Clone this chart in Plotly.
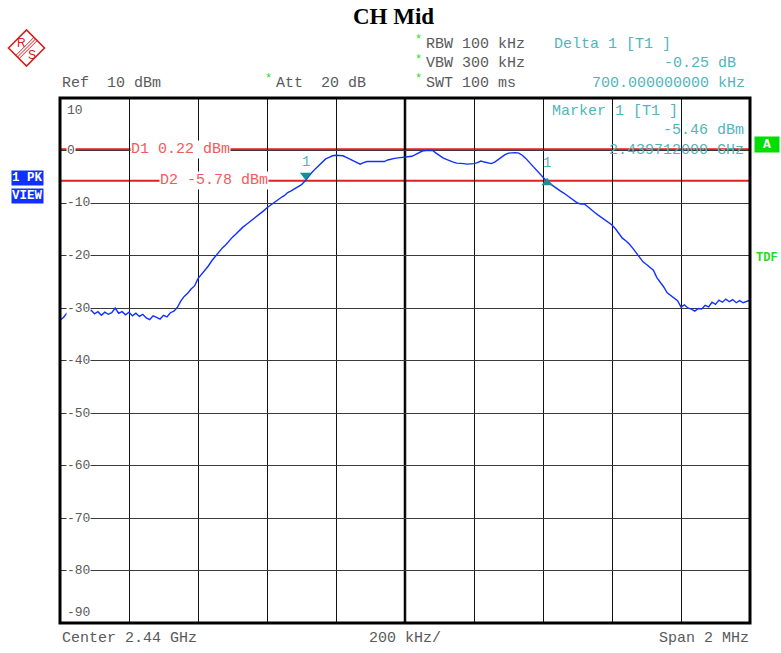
import numpy as np
import plotly.graph_objects as go

# ---------------- data ----------------
center_mhz = 2440.0
span_mhz = 2.0
n_points = 201
freq_mhz = np.linspace(center_mhz - span_mhz / 2, center_mhz + span_mhz / 2, n_points)

trace_dbm = [
    -32.3, -31.8, -31.0, -31.4, -30.8, -31.2, -30.6, -31.3, -30.9, -30.4,
    -31.1, -30.7, -31.4, -30.8, -31.2, -30.9, -30.0, -31.0, -30.7, -31.3,
    -30.8, -31.5, -31.0, -31.6, -31.2, -31.9, -32.2, -31.5, -31.8, -32.1,
    -31.4, -31.7, -30.9, -30.6, -29.9, -28.7, -27.8, -27.2, -26.4, -25.8,
    -24.4, -23.6, -22.9, -22.0, -21.0, -20.2, -19.3, -18.6, -18.0, -17.2,
    -16.5, -15.9, -15.2, -14.6, -14.1, -13.6, -13.1, -12.5, -12.0, -11.5,
    -10.9, -10.4, -9.9, -9.5, -9.0, -8.6, -8.0, -7.7, -7.3, -7.0,
    -6.5, -5.8, -4.9, -4.2, -3.5, -2.8, -2.1, -1.6, -1.3, -1.0,
    -0.9, -0.9, -1.0, -1.3, -1.6, -2.0, -2.3, -2.6, -2.3, -2.1,
    -2.1, -2.1, -2.0, -2.1, -2.1, -1.8, -1.6, -1.5, -1.4, -1.3,
    -1.2, -1.1, -1.1, -0.8, -0.4, -0.1, 0.0, 0.0, 0.0, -0.5,
    -1.0, -1.4, -1.7, -2.0, -2.2, -2.4, -2.4, -2.5, -2.6, -2.6,
    -2.5, -2.3, -2.0, -2.2, -2.3, -2.5, -2.2, -1.7, -1.3, -0.8,
    -0.5, -0.4, -0.4, -0.5, -0.9, -1.5, -2.2, -2.9, -3.7, -4.4,
    -5.2, -5.8, -6.3, -6.8, -7.3, -7.7, -8.1, -8.6, -9.0, -9.5,
    -10.0, -10.2, -10.2, -10.7, -11.3, -11.8, -12.3, -12.8, -13.2, -13.7,
    -14.2, -14.9, -15.9, -16.7, -17.2, -17.8, -18.6, -19.5, -20.4, -21.2,
    -21.7, -22.2, -22.8, -24.2, -25.0, -26.0, -27.1, -27.6, -28.0, -28.6,
    -29.8, -29.4, -30.0, -30.2, -30.6, -30.1, -30.2, -29.5, -29.8, -28.9,
    -29.3, -28.5, -28.9, -28.3, -28.8, -28.4, -29.0, -28.6, -29.0, -28.8,
    -28.5,
]

ref_level = 10
y_bottom = -90
y_tick_values = [10, 0, -10, -20, -30, -40, -50, -60, -70, -80, -90]
y_tick_labels = ["10", "0", "-10", "-20", "-30", "-40", "-50", "-60", "-70", "-80", "-90"]

d1_level = 0.22
d2_level = -5.78
marker1_freq = 2439.712
marker1_level = -5.46
delta1_freq_offset = 0.7      # MHz
delta1_level_offset = -0.25   # dB

title = "CH Mid"
header_left = ["Ref  10 dBm", "Att  20 dB"]
header_mid = ["RBW 100 kHz", "VBW 300 kHz", "SWT 100 ms"]
delta_texts = ["Delta 1 [T1 ]", "-0.25 dB", "700.000000000 kHz"]
marker_texts = ["Marker 1 [T1 ]", "-5.46 dBm", "2.439712000 GHz"]
footer = ["Center 2.44 GHz", "200 kHz/", "Span 2 MHz"]

# ---------------- styles ----------------
W, H = 781, 653
L, R, T, B = 60, 750, 98, 623
MONO = "Liberation Mono, DejaVu Sans Mono, monospace"
GRAY = "#5a5a5a"
TEAL = "#4fb6bc"
MARK = "#17908f"
REDTXT = "#f25a5a"
REDLINE = "#e41f1f"
GREEN = "#1fdc1f"
BLUE = "#1030ff"
FS = 15


def px(x):
    return (x - L) / (R - L)


def py(y):
    return (B - y) / (B - T)


fig = go.Figure()
fig.add_trace(go.Scatter(x=freq_mhz, y=trace_dbm, mode="lines",
                         line=dict(color=BLUE, width=1.4), hoverinfo="skip"))

# markers
m2_freq = marker1_freq + delta1_freq_offset
m2_level = marker1_level + delta1_level_offset
fig.add_trace(go.Scatter(x=[marker1_freq], y=[marker1_level + 0.75], mode="markers",
                         marker=dict(symbol="triangle-down", size=10, color=MARK),
                         hoverinfo="skip"))
fig.add_trace(go.Scatter(x=[m2_freq], y=[m2_level - 0.45], mode="markers",
                         marker=dict(symbol="triangle-up", size=10, color=MARK),
                         hoverinfo="skip"))

ann = []


def txt(x, y, s, color=GRAY, size=FS, anchor="left", family=MONO, **kw):
    ann.append(dict(x=px(x), y=py(y), xref="paper", yref="paper", text=s,
                    showarrow=False, xanchor=anchor, yanchor="middle",
                    font=dict(family=family, size=size, color=color), **kw))


# marker labels "1"
for f, lv in [(marker1_freq, marker1_level), (m2_freq, m2_level)]:
    ann.append(dict(x=f, y=lv, xref="x", yref="y", text="1", showarrow=False,
                    yshift=17, font=dict(family=MONO, size=14, color=TEAL)))

# title
txt(393, 17, "<b>" + title + "</b>", color="black", size=23, anchor="center",
    family="Liberation Serif, Times New Roman, serif")

# header
txt(60, 83, header_left[0])
txt(268, 79, "*", color=GREEN, size=12, anchor="center")
txt(274, 83, header_left[1])
for i, s in enumerate(header_mid):
    yy = [44, 64, 83][i]
    txt(419, yy - 4, "*", color=GREEN, size=12, anchor="center")
    txt(424, yy, s)
txt(552, 44, delta_texts[0], color=TEAL)
txt(738, 64, delta_texts[1], color=TEAL, anchor="right")
txt(747, 83, delta_texts[2], color=TEAL, anchor="right")
txt(550, 111, marker_texts[0], color=TEAL)
txt(746, 130, marker_texts[1], color=TEAL, anchor="right")
txt(746, 150, marker_texts[2], color=TEAL, anchor="right")

# footer
txt(60, 638, footer[0])
txt(367, 638, footer[1])
txt(751, 638, footer[2], anchor="right")

# y labels
for v, lab in zip(y_tick_values, y_tick_labels):
    ypix = T + (ref_level - v) / (ref_level - y_bottom) * (B - T)
    if v == ref_level:
        ypix += 12
    if v == y_bottom:
        ypix -= 11
    txt(66, ypix, lab, size=13, bgcolor="white", borderpad=0)

# display line labels
for lv, lab, x0 in [(d1_level, "D1 0.22 dBm", 130), (d2_level, "D2 -5.78 dBm", 159)]:
    ann.append(dict(x=px(x0), y=lv, xref="paper", yref="y", text=lab, showarrow=False,
                    xanchor="left", yanchor="middle", bgcolor="white", borderpad=0,
                    font=dict(family=MONO, size=FS, color=REDTXT)))

# side labels
txt(766.5, 144.5, "<b>A</b>", color="white", size=13, anchor="center",
    bgcolor="#00dd00", width=22, height=13, borderpad=1)
txt(754, 258, "<b>TDF</b>", color=GREEN, size=12)
txt(11, 178, "<b>1 PK</b>", color="white", size=12.5, bgcolor=BLUE, borderpad=0)
txt(11, 196, "<b>VIEW</b>", color="white", size=12.5, bgcolor=BLUE, borderpad=0)

# logo letters
txt(21.5, 42.5, "R", color="#d42020", size=12, anchor="center",
    family="Liberation Sans, Arial, sans-serif")
txt(31.5, 55, "S", color="#d42020", size=12, anchor="center",
    family="Liberation Sans, Arial, sans-serif")

shapes = []
# display lines
for lv in [d1_level, d2_level]:
    shapes.append(dict(type="line", xref="paper", yref="y", x0=0, x1=1, y0=lv, y1=lv,
                       line=dict(color=REDLINE, width=2), layer="between"))
# center line
shapes.append(dict(type="line", xref="x", yref="paper", x0=center_mhz, x1=center_mhz,
                   y0=0, y1=1, line=dict(color="black", width=2.5), layer="between"))
# frame
shapes.append(dict(type="rect", xref="paper", yref="paper", x0=0, x1=1, y0=0, y1=1,
                   line=dict(color="black", width=3)))

# logo diamond
cx, cy, hw = 26.5, 48, 18
pts = [(cx - hw, cy), (cx, cy - hw), (cx + hw, cy), (cx, cy + hw)]
path = "M " + " L ".join(f"{px(a):.5f},{py(b):.5f}" for a, b in pts) + " Z"
shapes.append(dict(type="path", xref="paper", yref="paper", path=path,
                   line=dict(color="#d42020", width=1.6)))
for o in [-1.6, 0, 1.6]:
    x0, y0 = cx + hw / 2 + o, cy - hw / 2 + o
    x1, y1 = cx - hw / 2 + o, cy + hw / 2 + o
    shapes.append(dict(type="line", xref="paper", yref="paper",
                       x0=px(x0), y0=py(y0), x1=px(x1), y1=py(y1),
                       line=dict(color="#d42020", width=1)))

fig.update_layout(
    width=W, height=H,
    margin=dict(l=L, r=W - R, t=T, b=H - B),
    paper_bgcolor="white", plot_bgcolor="white",
    showlegend=False,
    xaxis=dict(range=[freq_mhz[0], freq_mhz[-1]], dtick=0.2, tick0=2439.0,
               showgrid=True, gridcolor="#111111", gridwidth=1,
               showticklabels=False, zeroline=False, ticks="", fixedrange=True),
    yaxis=dict(range=[y_bottom, ref_level], dtick=10, tick0=0,
               showgrid=True, gridcolor="#3a3a3a", gridwidth=1,
               showticklabels=False, zeroline=False, ticks="", fixedrange=True),
    annotations=ann,
    shapes=shapes,
)

fig.write_html(
    "out.html",
    config={"displayModeBar": False},
    post_script="document.body.style.margin='0';document.body.style.overflow='hidden';",
)
